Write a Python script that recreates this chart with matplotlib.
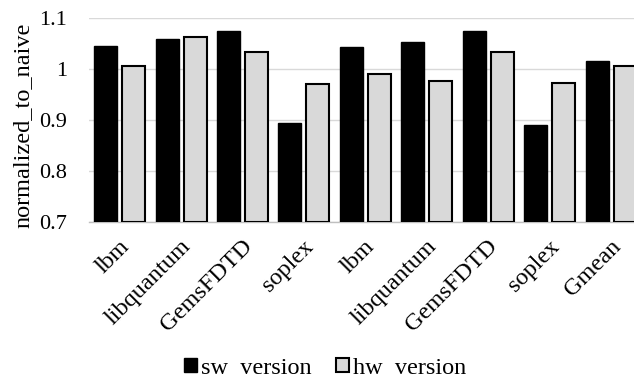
import matplotlib
matplotlib.use('Agg')
import matplotlib.pyplot as plt
import matplotlib.transforms as mtransforms
import numpy as np

# benchmark categories (second set repeats the workloads under another config)
benchmarks = ['lbm', 'libquantum', 'GemsFDTD', 'soplex',
              'lbm', 'libquantum', 'GemsFDTD', 'soplex', 'Gmean']
sw_version = [1.046, 1.058, 1.075, 0.895, 1.044, 1.053, 1.075, 0.890, 1.016]
hw_version = [1.005, 1.063, 1.033, 0.971, 0.990, 0.977, 1.033, 0.972, 1.005]
y_ticks = [0.7, 0.8, 0.9, 1.0, 1.1]
y_tick_labels = ['0.7', '0.8', '0.9', '1', '1.1']

plt.rcParams['font.family'] = ['Liberation Serif', 'DejaVu Serif']

fig = plt.figure(figsize=(6.34, 3.81), dpi=100)
# plot area runs past the right edge of the picture, like the cropped original
ax = fig.add_axes([0.1404, 0.4173, 0.8718, 0.5354])

x = np.arange(len(benchmarks))
w = 0.375
off = 0.228
ax.bar(x - off, np.array(sw_version) - 0.7, w, bottom=0.7, color='black',
       edgecolor='black', linewidth=1.0, label='sw  version', zorder=3)
ax.bar(x + off, np.array(hw_version) - 0.7, w, bottom=0.7, color='#d9d9d9',
       edgecolor='black', linewidth=1.5, label='hw  version', zorder=3)

ax.set_xlim(-0.5, len(benchmarks) - 0.5)
ax.set_ylim(0.7, 1.1)
ax.set_yticks(y_ticks)
ax.set_yticklabels(y_tick_labels, fontsize=16)
ax.set_xticks(x)
ax.set_xticklabels(benchmarks, fontsize=17.5, rotation=45, ha='right',
                   rotation_mode='anchor')
ax.tick_params(axis='both', length=0)
ax.tick_params(axis='x', pad=10)
ax.tick_params(axis='y', pad=16)

# tiny nudge of the slanted labels
shift = mtransforms.ScaledTranslation(-0.01, 0, fig.dpi_scale_trans)
for lab in ax.get_xticklabels():
    lab.set_transform(lab.get_transform() + shift)

ax.grid(axis='y', color='#d9d9d9', linewidth=1.0, zorder=0)
ax.set_axisbelow(True)
for s in ['top', 'right', 'left']:
    ax.spines[s].set_visible(False)
ax.spines['bottom'].set_color('#bfbfbf')
ax.spines['bottom'].set_linewidth(1.0)

ax.set_ylabel('normalized_to_naive', fontsize=17.5)
ax.yaxis.set_label_coords(-0.101, 0.475)

handles, labels = ax.get_legend_handles_labels()
fig.legend(handles, labels, loc='center', bbox_to_anchor=(325 / 634, 1 - 368 / 381),
           ncol=2, frameon=False, fontsize=17.5, handlelength=0.55, handleheight=0.55,
           handletextpad=0.15, columnspacing=1.0)

plt.savefig('out.png', dpi=100)
